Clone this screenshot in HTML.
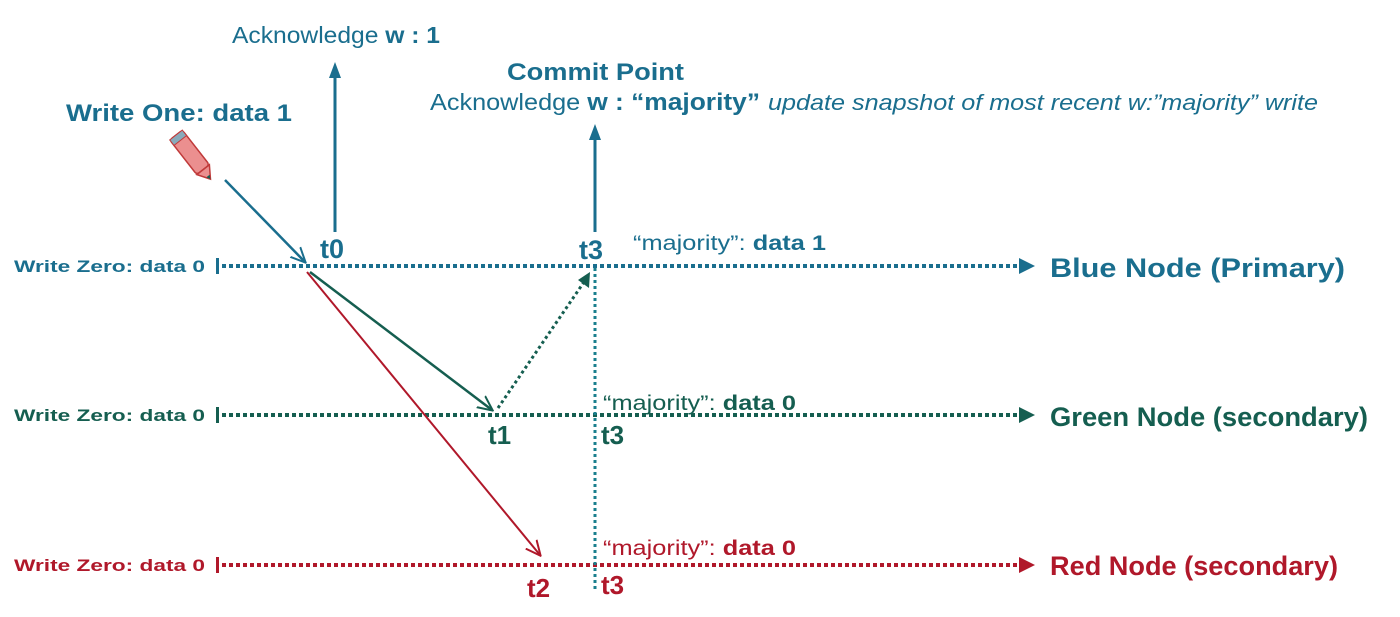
<!DOCTYPE html>
<html><head><meta charset="utf-8"><style>html,body{margin:0;padding:0;background:#fff}svg{display:block}text{font-family:"Liberation Sans",sans-serif}</style></head>
<body>
<svg width="1400" height="617" viewBox="0 0 1400 617" xmlns="http://www.w3.org/2000/svg">
<defs>
<marker id="ab" markerWidth="16" markerHeight="16" refX="15" refY="8" orient="auto" markerUnits="userSpaceOnUse"><path d="M0,0 L16,8 L0,16 Z" fill="#1a6e8e"/></marker>
<marker id="ag" markerWidth="16" markerHeight="16" refX="15" refY="8" orient="auto" markerUnits="userSpaceOnUse"><path d="M0,0 L16,8 L0,16 Z" fill="#155e50"/></marker>
<marker id="ar" markerWidth="16" markerHeight="16" refX="15" refY="8" orient="auto" markerUnits="userSpaceOnUse"><path d="M0,0 L16,8 L0,16 Z" fill="#b0182a"/></marker>
<marker id="sb" markerWidth="16" markerHeight="16" refX="14" refY="8" orient="auto" markerUnits="userSpaceOnUse"><path d="M0,1 L15,8 L0,15 M0,8 L15,8" stroke="#1a6e8e" stroke-width="2" fill="none"/></marker>
<marker id="sg" markerWidth="16" markerHeight="16" refX="14" refY="8" orient="auto" markerUnits="userSpaceOnUse"><path d="M0,1 L15,8 L0,15" stroke="#155e50" stroke-width="2" fill="none"/></marker>
<marker id="sr" markerWidth="16" markerHeight="16" refX="14" refY="8" orient="auto" markerUnits="userSpaceOnUse"><path d="M0,1 L15,8 L0,15" stroke="#b0182a" stroke-width="2" fill="none"/></marker>
</defs>

<g stroke-width="4" stroke-dasharray="4,3">
<line x1="222" y1="266" x2="1034" y2="266" stroke="#1a6e8e" marker-end="url(#ab)"/>
<line x1="222" y1="415" x2="1034" y2="415" stroke="#155e50" marker-end="url(#ag)"/>
<line x1="222" y1="565" x2="1034" y2="565" stroke="#b0182a" marker-end="url(#ar)"/>
</g>
<rect x="216" y="258" width="3" height="16" fill="#1a6e8e"/>
<rect x="216" y="407" width="3" height="16" fill="#155e50"/>
<rect x="216" y="557" width="3" height="16" fill="#b0182a"/>

<text x="14" y="272" font-size="17" font-weight="bold" fill="#1a6e8e" textLength="191" lengthAdjust="spacingAndGlyphs">Write Zero: data 0</text>
<text x="14" y="421" font-size="17" font-weight="bold" fill="#155e50" textLength="191" lengthAdjust="spacingAndGlyphs">Write Zero: data 0</text>
<text x="14" y="571" font-size="17" font-weight="bold" fill="#b0182a" textLength="191" lengthAdjust="spacingAndGlyphs">Write Zero: data 0</text>

<text x="1050" y="277" font-size="27" font-weight="bold" fill="#1a6e8e" textLength="295" lengthAdjust="spacingAndGlyphs">Blue Node (Primary)</text>
<text x="1050" y="426" font-size="27" font-weight="bold" fill="#155e50" textLength="318" lengthAdjust="spacingAndGlyphs">Green Node (secondary)</text>
<text x="1050" y="575" font-size="27" font-weight="bold" fill="#b0182a" textLength="288" lengthAdjust="spacingAndGlyphs">Red Node (secondary)</text>

<line x1="335" y1="232" x2="335" y2="74" stroke="#1a6e8e" stroke-width="3"/>
<path d="M329,78 L335,62 L341,78 Z" fill="#1a6e8e"/>
<line x1="595" y1="232" x2="595" y2="136" stroke="#1a6e8e" stroke-width="3"/>
<path d="M589,140 L595,124 L601,140 Z" fill="#1a6e8e"/>
<line x1="595" y1="268" x2="595" y2="592" stroke="#1a7f8e" stroke-width="3" stroke-dasharray="3,3"/>

<line x1="225" y1="180" x2="305" y2="262" stroke="#1a6e8e" stroke-width="2.5" marker-end="url(#sb)"/>
<line x1="310" y1="272" x2="492" y2="410" stroke="#155e50" stroke-width="2.5" marker-end="url(#sg)"/>
<line x1="307" y1="272" x2="540" y2="555" stroke="#b0182a" stroke-width="2" marker-end="url(#sr)"/>
<line x1="498" y1="408" x2="584" y2="282" stroke="#155e50" stroke-width="3" stroke-dasharray="3,3"/>
<path d="M578,280 L590,272 L589,288 Z" fill="#155e50"/>

<g transform="translate(176,135) rotate(52)">
<rect x="0" y="-8" width="44" height="16" rx="3" fill="#eb8f8f" stroke="#c03a3a" stroke-width="1.5"/>
<rect x="0" y="-8" width="7" height="16" fill="#8ab" stroke="#c03a3a" stroke-width="1"/>
<path d="M44,-8 L56,0 L44,8 Z" fill="#eb8f8f" stroke="#c03a3a" stroke-width="1.5"/>
<path d="M52,-2 L56,0 L52,2 Z" fill="#155e50"/>
</g>

<text x="232" y="43" font-size="23" fill="#1a6e8e" textLength="208" lengthAdjust="spacingAndGlyphs">Acknowledge <tspan font-weight="bold">w : 1</tspan></text>
<text x="66" y="121" font-size="24" font-weight="bold" fill="#1a6e8e" textLength="226" lengthAdjust="spacingAndGlyphs">Write One: data 1</text>
<text x="507" y="80" font-size="24" font-weight="bold" fill="#1a6e8e" textLength="177" lengthAdjust="spacingAndGlyphs">Commit Point</text>
<text x="430" y="110" font-size="23" fill="#1a6e8e" textLength="330" lengthAdjust="spacingAndGlyphs">Acknowledge <tspan font-weight="bold" font-size="24">w : “majority”</tspan></text>
<text x="768" y="110" font-size="22" font-style="italic" fill="#1a6e8e" textLength="550" lengthAdjust="spacingAndGlyphs">update snapshot of most recent w:”majority” write</text>

<text x="320" y="258" font-size="27" font-weight="bold" fill="#1a6e8e">t0</text>
<text x="579" y="259" font-size="27" font-weight="bold" fill="#1a6e8e">t3</text>
<text x="633" y="250" font-size="21" fill="#1a6e8e" textLength="193" lengthAdjust="spacingAndGlyphs">“majority”: <tspan font-weight="bold">data 1</tspan></text>

<text x="488" y="444" font-size="26" font-weight="bold" fill="#155e50">t1</text>
<text x="601" y="444" font-size="26" font-weight="bold" fill="#155e50">t3</text>
<text x="603" y="410" font-size="21" fill="#155e50" textLength="193" lengthAdjust="spacingAndGlyphs">“majority”: <tspan font-weight="bold">data 0</tspan></text>

<text x="527" y="597" font-size="26" font-weight="bold" fill="#b0182a">t2</text>
<text x="601" y="594" font-size="26" font-weight="bold" fill="#b0182a">t3</text>
<text x="603" y="555" font-size="21" fill="#b0182a" textLength="193" lengthAdjust="spacingAndGlyphs">“majority”: <tspan font-weight="bold">data 0</tspan></text>
</svg>
</body></html>
